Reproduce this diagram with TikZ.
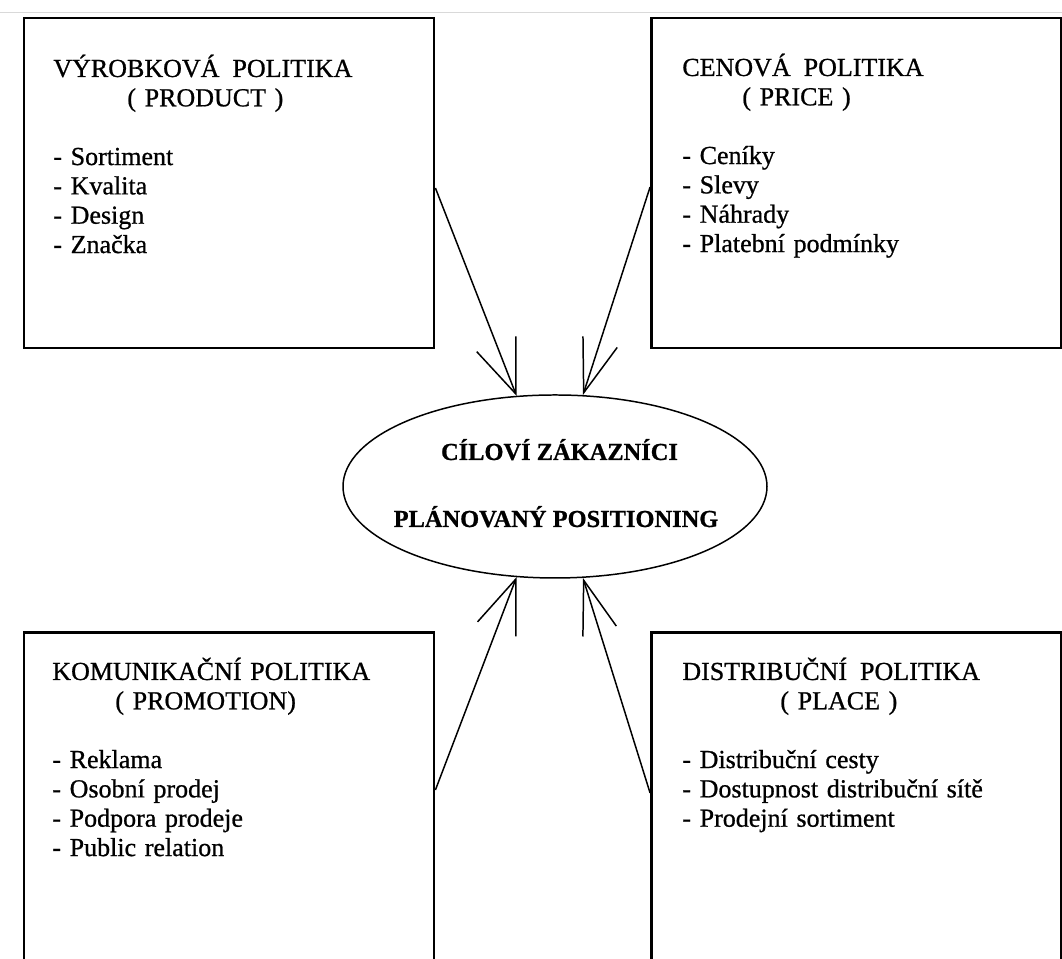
\documentclass[tikz,border=0pt]{standalone}
\usepackage{fontspec}
\setmainfont{Liberation Serif}[FakeBold=0.8]
\usetikzlibrary{shapes.geometric,arrows.meta}

\tikzset{
    polbox/.style={draw, line width=1.6pt, minimum width=8.2cm, inner sep=0pt},
    poltext/.style={anchor=base west, text width=7.6cm, align=left, inner sep=0pt, font=\fontsize{14.8}{16.7}\selectfont},
    goaltext/.style={anchor=base, inner sep=0pt, font=\bfseries\fontsize{13.9}{16}\selectfont},
    inarrow/.style={line width=0.85pt, -{Straight Barb[length=1.07cm, width=#1]}}
}

\begin{document}
\begin{tikzpicture}
    \useasboundingbox (0, 0) rectangle (21.24, 19.18);
    %\draw[lightgray] (0, 0) grid (21, 19);
    \draw[black!15] (0, 18.93) -- (21.24, 18.93);
    \node[polbox, minimum height=6.6cm](product) at (4.58, 15.52) {};
    \node[polbox, minimum height=6.6cm](price) at (17.13, 15.52) {};
    \node[polbox, minimum height=7.6cm, anchor=north](promotion) at (4.58, 6.56) {};
    \node[polbox, minimum height=7.6cm, anchor=north](place) at (17.13, 6.56) {};
    \node[poltext](producttext) at (1.06, 17.64) {VÝROBKOVÁ\hspace{0.5em}POLITIKA\\ \hspace*{1.48cm}( PRODUCT )\\[16.7pt] - Sortiment\\ - Kvalita\\ - Design\\ - Značka};
    \node[poltext](pricetext) at (13.64, 17.66) {CENOVÁ\hspace{0.5em}POLITIKA\\ \hspace*{1.2cm}( PRICE )\\[16.7pt] - Ceníky\\ - Slevy\\ - Náhrady\\ - Platební podmínky};
    \node[poltext](promotiontext) at (1.04, 5.58) {KOMUNIKAČNÍ POLITIKA\\ \hspace*{1.26cm}( PROMOTION)\\[16.7pt] - Reklama\\ - Osobní prodej\\ - Podpora prodeje\\ - Public relation};
    \node[poltext](placetext) at (13.64, 5.58) {DISTRIBUČNÍ\hspace{0.5em}POLITIKA\\ \hspace*{1.96cm}( PLACE )\\[16.7pt] - Distribuční cesty\\ - Dostupnost distribuční sítě\\ - Prodejní sortiment};
    \node[ellipse, draw, line width=0.85pt, minimum width=8.48cm, minimum height=3.66cm, inner sep=0pt](customers) at (11.10, 9.45) {};
    \node[goaltext](targets) at (11.19, 9.98) {CÍLOVÍ ZÁKAZNÍCI};
    \node[goaltext](positioning) at (11.12, 8.64) {PLÁNOVANÝ POSITIONING};
    \draw[inarrow=0.84cm] ([yshift=-0.1cm]product.east) -- (customers.113);
    \draw[inarrow=0.72cm] ([yshift=-0.08cm]price.west) -- (customers.73);
    \draw[inarrow=0.82cm] ([yshift=-3.18cm]promotion.north east) -- (customers.247);
    \draw[inarrow=0.70cm] ([yshift=-3.24cm]place.north west) -- (customers.287);
\end{tikzpicture}
\end{document}
